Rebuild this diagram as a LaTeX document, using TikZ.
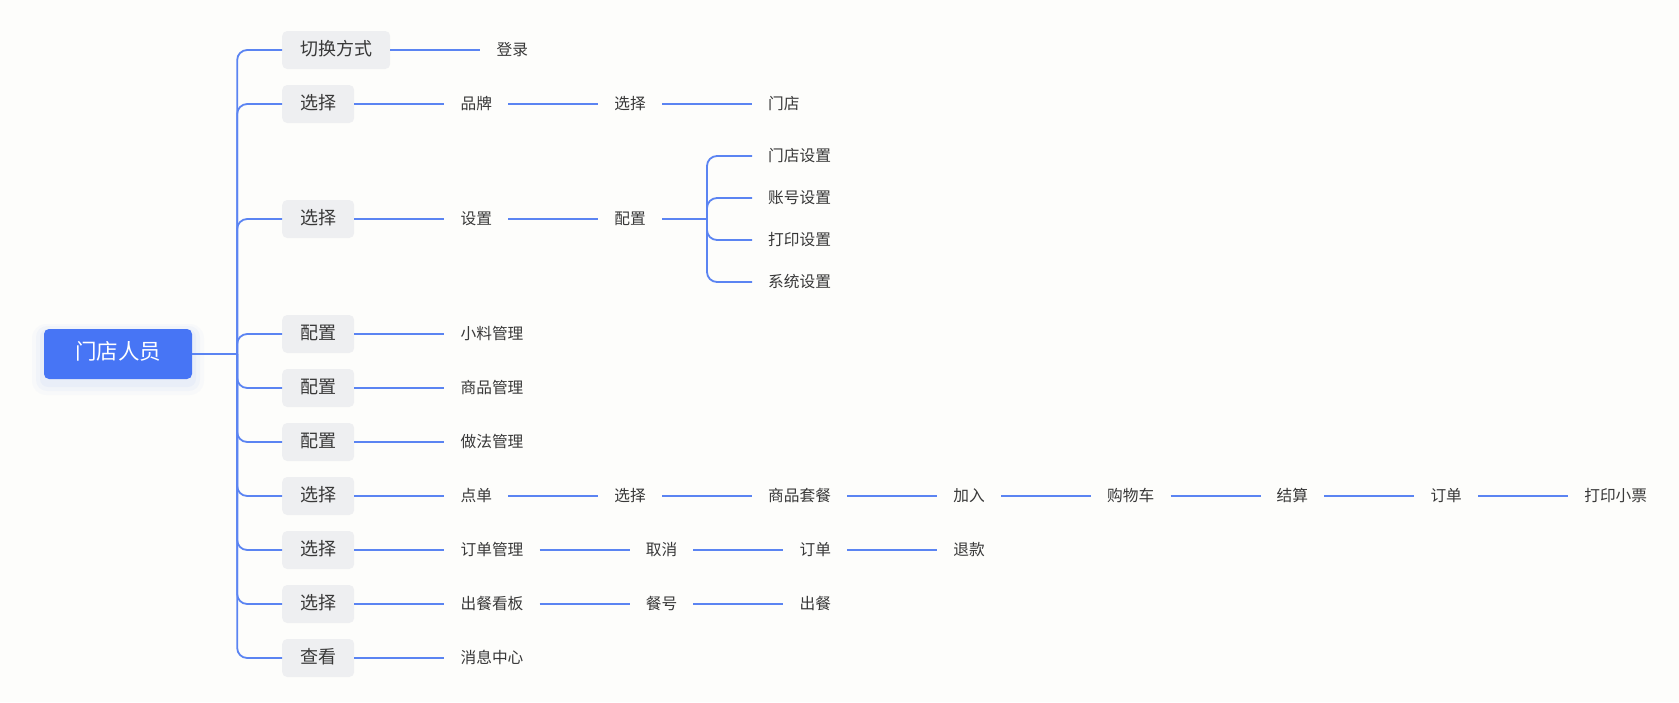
\documentclass[tikz,border=0pt]{standalone}
\usepackage{fontspec}
\setmainfont{Noto Sans CJK SC}
\usetikzlibrary{positioning}

\definecolor{linie}{HTML}{5B84F2}
\definecolor{wurzel}{HTML}{4775F5}
\definecolor{kasten}{HTML}{EEEFF1}
\definecolor{schrift}{HTML}{383838}
\definecolor{hinter}{HTML}{FDFDFB}

\begin{document}
\begin{tikzpicture}[x=1pt, y=-1pt]

    % --- Grundeinstellungen für Styles ---
    \tikzset{
        ast/.style={draw=linie, line width=1.8pt, rounded corners=10pt},
        rootbox/.style={fill=wurzel, text=white, rounded corners=5pt, minimum width=148pt, minimum height=50pt,
            font=\fontsize{21.5pt}{22pt}\selectfont, text height=1.1em, text depth=0.06em},
        stufe/.style={fill=kasten, text=schrift, rounded corners=5pt, minimum height=38pt, inner xsep=18pt, inner ysep=0pt,
            font=\fontsize{18pt}{18pt}\selectfont, text height=1.1em, text depth=0.06em, anchor=west},
        blatt/.style={text=schrift, inner xsep=16pt, inner ysep=2pt,
            font=\fontsize{15.7pt}{16pt}\selectfont, text height=1.1em, text depth=0.06em}
    }

    % --- Hintergrund ---
    \useasboundingbox[fill=hinter] (0,0) rectangle (1679,702);

    % --- 1. Wurzel (mit weichem Schatten) ---
    \fill[wurzel, opacity=0.025, rounded corners=14pt] (32,324) rectangle (204,395);
    \fill[wurzel, opacity=0.035, rounded corners=11pt] (36,326) rectangle (200,391);
    \fill[wurzel, opacity=0.045, rounded corners=8pt] (40,329) rectangle (196,387);
    \node[rootbox] (root) at (118,354) {门店人员};
    \coordinate[right=45pt of root] (stamm);

    % --- 2. Erste Ebene ---
    \node[stufe] (switch) at (282,50) {切换方式};
    \node[stufe] (pick1) at (282,104) {选择};
    \node[stufe] (pick2) at (282,219) {选择};
    \node[stufe] (cfg1) at (282,334) {配置};
    \node[stufe] (cfg2) at (282,388) {配置};
    \node[stufe] (cfg3) at (282,442) {配置};
    \node[stufe] (pick3) at (282,496) {选择};
    \node[stufe] (pick4) at (282,550) {选择};
    \node[stufe] (pick5) at (282,604) {选择};
    \node[stufe] (view) at (282,658) {查看};

    % --- 3. Ketten rechts davon ---
    \node[blatt, right=90pt of switch] (login) {登录};

    \node[blatt, right=90pt of pick1] (brand) {品牌};
    \node[blatt, right=90pt of brand] (pick1b) {选择};
    \node[blatt, right=90pt of pick1b] (store) {门店};

    \node[blatt, right=90pt of pick2] (settings) {设置};
    \node[blatt, right=90pt of settings] (config) {配置};
    \coordinate[right=45pt of config] (cfgjoint);
    \node[blatt, right=45pt of cfgjoint, yshift=63pt] (storeset) {门店设置};
    \node[blatt, right=45pt of cfgjoint, yshift=21pt] (accountset) {账号设置};
    \node[blatt, right=45pt of cfgjoint, yshift=-21pt] (printset) {打印设置};
    \node[blatt, right=45pt of cfgjoint, yshift=-63pt] (sysset) {系统设置};

    \node[blatt, right=90pt of cfg1] (toppings) {小料管理};
    \node[blatt, right=90pt of cfg2] (goods) {商品管理};
    \node[blatt, right=90pt of cfg3] (recipes) {做法管理};

    \node[blatt, right=90pt of pick3] (order) {点单};
    \node[blatt, right=90pt of order] (pick3b) {选择};
    \node[blatt, right=90pt of pick3b] (combo) {商品套餐};
    \node[blatt, right=90pt of combo] (add) {加入};
    \node[blatt, right=90pt of add] (cart) {购物车};
    \node[blatt, right=90pt of cart] (checkout) {结算};
    \node[blatt, right=90pt of checkout] (order2) {订单};
    \node[blatt, right=90pt of order2] (receipt) {打印小票};

    \node[blatt, right=90pt of pick4] (ordermgmt) {订单管理};
    \node[blatt, right=90pt of ordermgmt] (cancel) {取消};
    \node[blatt, right=90pt of cancel] (order3) {订单};
    \node[blatt, right=90pt of order3] (refund) {退款};

    \node[blatt, right=90pt of pick5] (board) {出餐看板};
    \node[blatt, right=90pt of board] (mealno) {餐号};
    \node[blatt, right=90pt of mealno] (serve) {出餐};

    \node[blatt, right=90pt of view] (msgs) {消息中心};

    % --- 4. Verbindungen ---
    % Stamm mit abgerundeten Abzweigen
    \draw[ast] (root) -- (stamm);
    \draw[ast] (stamm) |- (switch.west);
    \draw[ast] (stamm) |- (pick1.west);
    \draw[ast] (stamm) |- (pick2.west);
    \draw[ast] (stamm) |- (cfg1.west);
    \draw[ast] (stamm) |- (cfg2.west);
    \draw[ast] (stamm) |- (cfg3.west);
    \draw[ast] (stamm) |- (pick3.west);
    \draw[ast] (stamm) |- (pick4.west);
    \draw[ast] (stamm) |- (pick5.west);
    \draw[ast] (stamm) |- (view.west);

    \draw[ast] (switch) -- (login);

    \draw[ast] (pick1) -- (brand);
    \draw[ast] (brand) -- (pick1b);
    \draw[ast] (pick1b) -- (store);

    \draw[ast] (pick2) -- (settings);
    \draw[ast] (settings) -- (config);
    \draw[ast] (config) -- (cfgjoint);
    \draw[ast] (cfgjoint) |- (storeset.west);
    \draw[ast] (cfgjoint) |- (accountset.west);
    \draw[ast] (cfgjoint) |- (printset.west);
    \draw[ast] (cfgjoint) |- (sysset.west);

    \draw[ast] (cfg1) -- (toppings);
    \draw[ast] (cfg2) -- (goods);
    \draw[ast] (cfg3) -- (recipes);

    \draw[ast] (pick3) -- (order);
    \draw[ast] (order) -- (pick3b);
    \draw[ast] (pick3b) -- (combo);
    \draw[ast] (combo) -- (add);
    \draw[ast] (add) -- (cart);
    \draw[ast] (cart) -- (checkout);
    \draw[ast] (checkout) -- (order2);
    \draw[ast] (order2) -- (receipt);

    \draw[ast] (pick4) -- (ordermgmt);
    \draw[ast] (ordermgmt) -- (cancel);
    \draw[ast] (cancel) -- (order3);
    \draw[ast] (order3) -- (refund);

    \draw[ast] (pick5) -- (board);
    \draw[ast] (board) -- (mealno);
    \draw[ast] (mealno) -- (serve);

    \draw[ast] (view) -- (msgs);

\end{tikzpicture}
\end{document}
